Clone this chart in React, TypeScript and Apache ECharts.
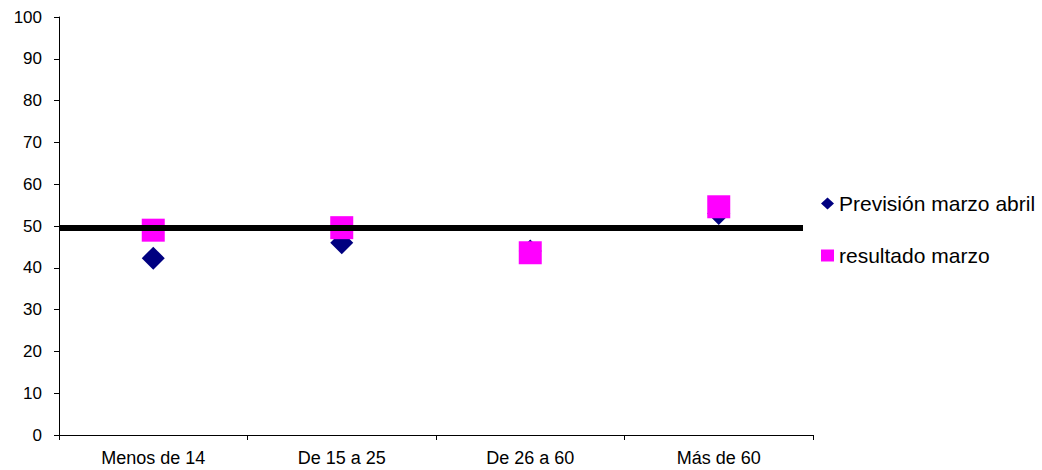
import React, { useEffect, useRef } from "react";
import * as echarts from "echarts";

const categories = ["Menos de 14", "De 15 a 25", "De 26 a 60", "Más de 60"];
const prevision = [42.3, 46, 44, 53];
const resultado = [49, 49.6, 43.6, 54.6];
const referenceLevel = 49.5;
const seriesNames = ["Previsión marzo abril", "resultado marzo"];

export default function App() {
  const ref = useRef<HTMLDivElement>(null);
  useEffect(() => {
    if (!ref.current) return;
    const chart = echarts.init(ref.current, null, { renderer: "svg" });
    const font = "'Liberation Sans', Arial, sans-serif";
    chart.setOption({
      animation: false,
      backgroundColor: "#ffffff",
      grid: { left: 59, top: 17, right: 229, bottom: 35 },
      legend: {
        orient: "vertical",
        left: 821,
        top: 193,
        padding: 0,
        itemWidth: 13,
        itemHeight: 12,
        itemGap: 31,
        textStyle: { fontFamily: font, fontSize: 21, color: "#000" },
        data: [
          { name: seriesNames[0], icon: "diamond" },
          { name: seriesNames[1], icon: "rect" },
        ],
      },
      xAxis: {
        type: "category",
        data: categories,
        boundaryGap: true,
        axisLine: { lineStyle: { color: "#000", width: 1 } },
        axisTick: { show: true, alignWithLabel: false, length: 5, lineStyle: { color: "#000" } },
        axisLabel: { color: "#000", fontFamily: font, fontSize: 18, margin: 14 },
        splitLine: { show: false },
      },
      yAxis: {
        type: "value",
        min: 0,
        max: 100,
        interval: 10,
        axisLine: { show: true, lineStyle: { color: "#000", width: 1 } },
        axisTick: { show: true, length: 5, lineStyle: { color: "#000" } },
        axisLabel: { color: "#000", fontFamily: font, fontSize: 17, margin: 17 },
        splitLine: { show: false },
      },
      series: [
        {
          name: seriesNames[0],
          type: "scatter",
          symbol: "diamond",
          symbolSize: 23,
          itemStyle: { color: "#000080", opacity: 1 },
          data: prevision,
          z: 2,
        },
        {
          name: seriesNames[1],
          type: "scatter",
          symbol: "rect",
          symbolSize: 23,
          itemStyle: { color: "#ff00ff", opacity: 1 },
          data: resultado,
          z: 3,
        },
      ],
    });
    const y = chart.convertToPixel({ yAxisIndex: 0 }, referenceLevel) as number;
    chart.setOption({
      graphic: [
        {
          type: "line",
          z: 10,
          shape: { x1: 59, y1: y, x2: 803, y2: y },
          style: { stroke: "#000", lineWidth: 6 },
        },
      ],
    });
    return () => chart.dispose();
  }, []);
  return (
    <div
      ref={ref}
      style={{ position: "fixed", left: 0, top: 0, width: 1042, height: 470 }}
    />
  );
}
